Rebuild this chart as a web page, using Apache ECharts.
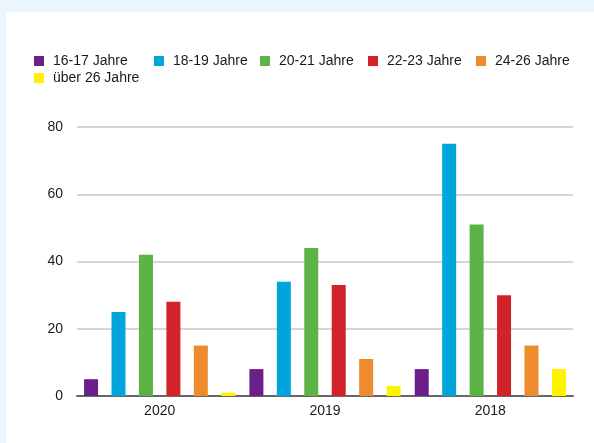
<!DOCTYPE html>
<html>
<head>
<meta charset="utf-8">
<script src="https://cdn.jsdelivr.net/npm/echarts@6/dist/echarts.min.js"></script>
<style>
  html, body { margin: 0; padding: 0; background: #eaf5fd; }
  #panel { position: absolute; left: 6px; top: 12px; right: 0; bottom: 0; background: #ffffff; }
  #chart-container { position: absolute; left: 0; top: 0; width: 594px; height: 443px; }
</style>
</head>
<body>
<div id="panel"></div>
<div id="chart-container"></div>
<script>
let dom = document.getElementById("chart-container");
let myChart = echarts.init(dom, null, { renderer: "canvas" });
let option;

// years on the x axis
const years = ["2020", "2019", "2018"];

// age groups (legend / series names)
const groups = [
  "16-17 Jahre",
  "18-19 Jahre",
  "20-21 Jahre",
  "22-23 Jahre",
  "24-26 Jahre",
  "über 26 Jahre",
];

// values per age group, in the order of years
const age1617 = [5, 8, 8];
const age1819 = [25, 34, 75];
const age2021 = [42, 44, 51];
const age2223 = [28, 33, 30];
const age2426 = [15, 11, 15];
const ageOver26 = [1, 3, 8];

const values = [age1617, age1819, age2021, age2223, age2426, ageOver26];
const colors = ["#6b1f88", "#00a5dc", "#5db446", "#d2232b", "#ee8b2e", "#fff200"];

// legend placement (each item is its own legend, like the original column layout)
const legendPos = [
  { left: 34, top: 54 },
  { left: 154, top: 54 },
  { left: 260, top: 54 },
  { left: 368, top: 54 },
  { left: 476, top: 54 },
  { left: 34, top: 71 },
];

option = {
  textStyle: { fontFamily: "Liberation Sans, Arial, sans-serif" },
  legend: groups.map((name, i) => ({
    data: [name],
    left: legendPos[i].left,
    top: legendPos[i].top,
    padding: 0,
    itemWidth: 10,
    itemHeight: 10,
    itemGap: 0,
    icon: "rect",
    selectedMode: false,
    textStyle: { fontSize: 14, color: "#1a1a1a", padding: [0, 0, 0, 4] },
  })),
  grid: { left: 77, right: 21, top: 127, bottom: 47 },
  xAxis: {
    type: "category",
    data: years,
    axisTick: { show: false },
    axisLine: { lineStyle: { color: "#666", width: 2 } },
    axisLabel: { fontSize: 14, color: "#1a1a1a", margin: 8 },
  },
  yAxis: {
    type: "value",
    min: 0,
    max: 80,
    interval: 20,
    axisLine: { show: false },
    axisTick: { show: false },
    axisLabel: { fontSize: 14, color: "#1a1a1a", margin: 14 },
    splitLine: { lineStyle: { color: "#c8c8c8", width: 1.5 } },
  },
  series: groups.map((name, i) => ({
    name: name,
    type: "bar",
    data: values[i],
    barWidth: 14,
    barGap: "96%",
    itemStyle: { color: colors[i] },
  })),
};

myChart.setOption(option);
window.addEventListener("resize", myChart.resize);
</script>
</body>
</html>
